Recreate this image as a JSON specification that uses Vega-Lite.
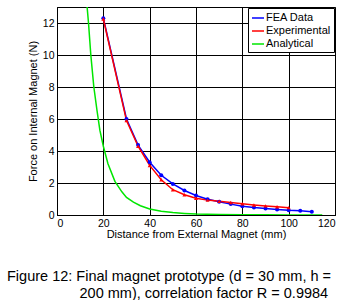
{
  "$schema": "https://vega.github.io/schema/vega-lite/v6.json",
  "width": 278,
  "height": 208,
  "autosize": {"type": "none"},
  "padding": {"left": 57, "top": 7, "right": 18, "bottom": 85},
  "background": "white",
  "title": {
    "text": ["Figure 12: Final magnet prototype (d = 30 mm, h =", "\u200c\u00a0\u00a0\u00a0\u00a0\u00a0\u00a0\u00a0\u00a0\u00a0\u00a0\u00a0\u00a0\u00a0\u00a0\u00a0\u00a0\u00a0\u00a0200 mm), correlation factor R = 0.9984"],
    "orient": "bottom",
    "anchor": "start",
    "frame": "group",
    "dx": -50,
    "offset": 30,
    "font": "Liberation Sans",
    "fontSize": 14.5,
    "fontWeight": "normal",
    "color": "black",
    "lineHeight": 17
  },
  "data": {
    "values": [
      {"x": 20, "y": 12.3, "series": "FEA Data"},
      {"x": 30, "y": 6.0, "series": "FEA Data"},
      {"x": 35, "y": 4.37, "series": "FEA Data"},
      {"x": 40, "y": 3.3, "series": "FEA Data"},
      {"x": 45, "y": 2.48, "series": "FEA Data"},
      {"x": 50, "y": 1.94, "series": "FEA Data"},
      {"x": 55, "y": 1.53, "series": "FEA Data"},
      {"x": 60, "y": 1.22, "series": "FEA Data"},
      {"x": 65, "y": 0.99, "series": "FEA Data"},
      {"x": 70, "y": 0.83, "series": "FEA Data"},
      {"x": 75, "y": 0.68, "series": "FEA Data"},
      {"x": 80, "y": 0.55, "series": "FEA Data"},
      {"x": 85, "y": 0.47, "series": "FEA Data"},
      {"x": 90, "y": 0.4, "series": "FEA Data"},
      {"x": 95, "y": 0.34, "series": "FEA Data"},
      {"x": 100, "y": 0.29, "series": "FEA Data"},
      {"x": 105, "y": 0.26, "series": "FEA Data"},
      {"x": 110, "y": 0.21, "series": "FEA Data"},
      {"x": 20, "y": 12.25, "series": "Experimental"},
      {"x": 30, "y": 5.9, "series": "Experimental"},
      {"x": 35, "y": 4.3, "series": "Experimental"},
      {"x": 40, "y": 3.1, "series": "Experimental"},
      {"x": 45, "y": 2.2, "series": "Experimental"},
      {"x": 50, "y": 1.58, "series": "Experimental"},
      {"x": 55, "y": 1.27, "series": "Experimental"},
      {"x": 60, "y": 1.05, "series": "Experimental"},
      {"x": 65, "y": 0.93, "series": "Experimental"},
      {"x": 70, "y": 0.86, "series": "Experimental"},
      {"x": 75, "y": 0.78, "series": "Experimental"},
      {"x": 80, "y": 0.7, "series": "Experimental"},
      {"x": 85, "y": 0.63, "series": "Experimental"},
      {"x": 90, "y": 0.57, "series": "Experimental"},
      {"x": 95, "y": 0.52, "series": "Experimental"},
      {"x": 100, "y": 0.46, "series": "Experimental"},
      {"x": 13.0, "y": 13.0, "series": "Analytical"},
      {"x": 13.6, "y": 12.0, "series": "Analytical"},
      {"x": 14.6, "y": 10.0, "series": "Analytical"},
      {"x": 15.9, "y": 8.0, "series": "Analytical"},
      {"x": 17.3, "y": 6.5, "series": "Analytical"},
      {"x": 18.5, "y": 5.3, "series": "Analytical"},
      {"x": 20, "y": 4.3, "series": "Analytical"},
      {"x": 22, "y": 3.2, "series": "Analytical"},
      {"x": 25, "y": 2.1, "series": "Analytical"},
      {"x": 28, "y": 1.45, "series": "Analytical"},
      {"x": 30, "y": 1.1, "series": "Analytical"},
      {"x": 33, "y": 0.8, "series": "Analytical"},
      {"x": 36, "y": 0.58, "series": "Analytical"},
      {"x": 40, "y": 0.38, "series": "Analytical"},
      {"x": 45, "y": 0.24, "series": "Analytical"},
      {"x": 50, "y": 0.15, "series": "Analytical"},
      {"x": 55, "y": 0.1, "series": "Analytical"},
      {"x": 60, "y": 0.06, "series": "Analytical"},
      {"x": 70, "y": 0.03, "series": "Analytical"},
      {"x": 80, "y": 0.015, "series": "Analytical"},
      {"x": 90, "y": 0.008, "series": "Analytical"},
      {"x": 100, "y": 0.004, "series": "Analytical"},
      {"x": 114.5, "y": 0.002, "series": "Analytical"}
    ]
  },
  "encoding": {
    "x": {
      "field": "x", "type": "quantitative",
      "scale": {"domain": [0, 120], "nice": false},
      "axis": {"values": [0, 20, 40, 60, 80, 100, 120], "title": "Distance from External Magnet (mm)", "titlePadding": 0, "labelPadding": 3}
    },
    "y": {
      "field": "y", "type": "quantitative",
      "scale": {"domain": [0, 13], "nice": false},
      "axis": {"values": [0, 2, 4, 6, 8, 10, 12], "title": "Force on Internal Magnet (N)", "titlePadding": 4, "labelPadding": 3}
    }
  },
  "layer": [
    {
      "mark": {"type": "line", "strokeWidth": 1.5, "clip": true},
      "encoding": {
        "color": {
          "field": "series", "type": "nominal",
          "scale": {"domain": ["FEA Data", "Experimental", "Analytical"], "range": ["#0000ff", "#ff0000", "#00e600"]},
          "sort": ["FEA Data", "Experimental", "Analytical"],
          "legend": {
            "title": null,
            "orient": "top-right",
            "offset": 1,
            "symbolType": "stroke",
            "symbolSize": 144,
            "symbolStrokeWidth": 1.5,
            "labelFontSize": 11,
            "labelFont": "Liberation Sans",
            "labelColor": "black",
            "labelOffset": 1,
            "rowPadding": 1,
            "padding": 3,
            "strokeColor": "black",
            "fillColor": "white"
          }
        },
        "strokeWidth": {"condition": {"test": "datum.series === 'Analytical'", "value": 1}, "value": 1.5}
      }
    },
    {
      "transform": [{"filter": "datum.series === 'FEA Data'"}],
      "mark": {"type": "point", "shape": "circle", "filled": true, "size": 16, "color": "#0000ff", "opacity": 1}
    },
    {
      "transform": [{"filter": "datum.series === 'Experimental'"}],
      "mark": {"type": "point", "shape": "triangle-up", "filled": true, "size": 16, "color": "#ff0000", "opacity": 1}
    }
  ],
  "config": {
    "font": "Liberation Sans",
    "view": {"stroke": "black", "strokeWidth": 1},
    "axis": {
      "grid": true,
      "gridColor": "black",
      "gridOpacity": 1,
      "gridWidth": 1,
      "domainColor": "black",
      "ticks": false,
      "labelFont": "Liberation Sans",
      "labelFontSize": 10.5,
      "labelColor": "black",
      "titleFont": "Liberation Sans",
      "titleFontSize": 11,
      "titleFontWeight": "normal",
      "titleColor": "black"
    }
  }
}
